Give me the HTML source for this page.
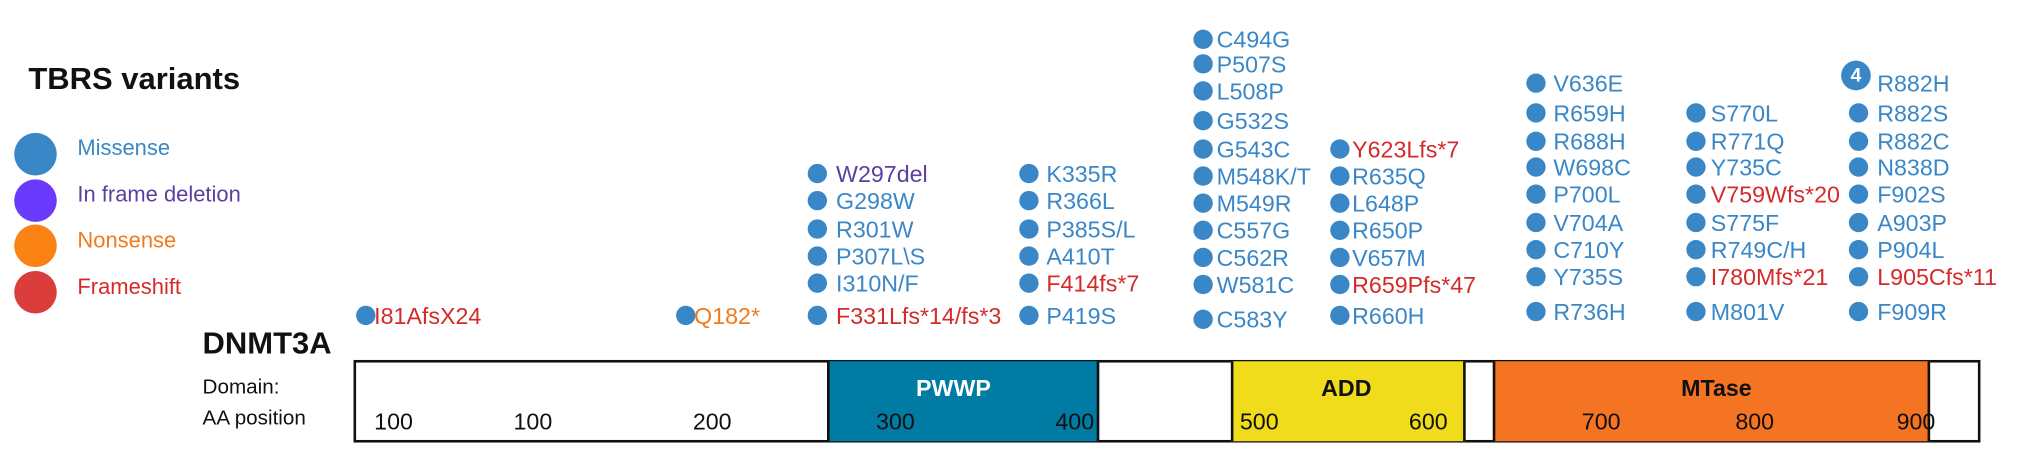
<!DOCTYPE html>
<html><head><meta charset="utf-8"><style>
body{margin:0;width:2023px;height:461px;background:#fff;position:relative;overflow:hidden;font-family:"Liberation Sans",Arial,sans-serif}
#w{position:absolute;left:0;top:0;width:1568px;height:357px;transform:scale(1.2902);transform-origin:0 0}
.t{position:absolute;white-space:nowrap;font-size:18px;line-height:18px;color:#3a87c8}
.d{position:absolute;width:15px;height:15px;border-radius:50%;background:#3a87c8}
.r{color:#d42a2a}.o{color:#f07a1c}.p{color:#5a3fa0}
.lc{position:absolute;width:33px;height:33px;border-radius:50%;left:11px}
.box{position:absolute;top:279px;height:64px}
.n{position:absolute;font-size:18px;color:#111;top:317px}
</style></head><body><div id="w">
<div class="t" style="left:22px;top:50px;font-size:24px;font-weight:bold;color:#111;line-height:24px">TBRS variants</div>
<div class="lc" style="top:103px;background:#3a87c8"></div><div class="t" style="left:60px;top:106px;font-size:17px">Missense</div>
<div class="lc" style="top:139px;background:#6a3bfc"></div><div class="t p" style="left:60px;top:142px;font-size:17px">In frame deletion</div>
<div class="lc" style="top:174px;background:#fb8313"></div><div class="t o" style="left:60px;top:178px;font-size:17px">Nonsense</div>
<div class="lc" style="top:210px;background:#db3d3d"></div><div class="t r" style="left:60px;top:214px;font-size:17px">Frameshift</div>
<div class="t" style="left:157px;top:255px;font-size:24px;font-weight:bold;color:#111;line-height:24px">DNMT3A</div>
<div class="t" style="left:157px;top:292px;font-size:16px;color:#111">Domain:</div>
<div class="t" style="left:157px;top:316px;font-size:16px;color:#111">AA position</div>
<div class="box" style="left:274px;width:1261px;border:2px solid #111;box-sizing:border-box;height:64px"></div>
<div class="box" style="left:641px;width:207px;background:#007ba3;border-left:2px solid #111;border-right:2px solid #111;top:280px;height:62px"></div>
<div class="box" style="left:954px;width:178px;background:#f0dc1a;border-left:2px solid #111;border-right:2px solid #111;top:280px;height:62px"></div>
<div class="box" style="left:1157px;width:335px;background:#f47423;border-left:2px solid #111;border-right:2px solid #111;top:280px;height:62px"></div>
<div class="t" style="left:710px;top:292px;font-weight:bold;color:#fff">PWWP</div>
<div class="t" style="left:1024px;top:292px;font-weight:bold;color:#111">ADD</div>
<div class="t" style="left:1303px;top:292px;font-weight:bold;color:#111">MTase</div>
<div class="n" style="left:290px">100</div><div class="n" style="left:398px">100</div><div class="n" style="left:537px">200</div>
<div class="n" style="left:679px">300</div><div class="n" style="left:818px">400</div><div class="n" style="left:961px">500</div>
<div class="n" style="left:1092px">600</div><div class="n" style="left:1226px">700</div><div class="n" style="left:1345px">800</div><div class="n" style="left:1470px">900</div>
<div id="m"></div>
</div>
<script>
var cols=[
[276,290,[[245,"I81AfsX24","r"]]],
[524,538,[[245,"Q182*","o"]]],
[626,648,[[135,"W297del","p"],[156,"G298W"],[178,"R301W"],[199,"P307L\\S"],[220,"I310N/F"],[245,"F331Lfs*14/fs*3","r"]]],
[790,811,[[135,"K335R"],[156,"R366L"],[178,"P385S/L"],[199,"A410T"],[220,"F414fs*7","r"],[245,"P419S"]]],
[925,943,[[31,"C494G"],[50,"P507S"],[71,"L508P"],[94,"G532S"],[116,"G543C"],[137,"M548K/T"],[158,"M549R"],[179,"C557G"],[200,"C562R"],[221,"W581C"],[248,"C583Y"]]],
[1031,1048,[[116,"Y623Lfs*7","r"],[137,"R635Q"],[158,"L648P"],[179,"R650P"],[200,"V657M"],[221,"R659Pfs*47","r"],[245,"R660H"]]],
[1183,1204,[[65,"V636E"],[88,"R659H"],[110,"R688H"],[130,"W698C"],[151,"P700L"],[173,"V704A"],[194,"C710Y"],[215,"Y735S"],[242,"R736H"]]],
[1307,1326,[[88,"S770L"],[110,"R771Q"],[130,"Y735C"],[151,"V759Wfs*20","r"],[173,"S775F"],[194,"R749C/H"],[215,"I780Mfs*21","r"],[242,"M801V"]]],
[1433,1455,[[65,"R882H"],[88,"R882S"],[110,"R882C"],[130,"N838D"],[151,"F902S"],[173,"A903P"],[194,"P904L"],[215,"L905Cfs*11","r"],[242,"F909R"]]]];
var h="";cols.forEach(function(c){c[2].forEach(function(r,i){
if(!(c[0]==1433&&i==0))h+='<div class="d" style="left:'+c[0]+'px;top:'+(r[0]-8)+'px"></div>';
h+='<div class="t '+(r[2]||"")+'" style="left:'+c[1]+'px;top:'+(r[0]-9)+'px">'+r[1]+'</div>';});});
h+='<div style="position:absolute;left:1427px;top:47px;width:23px;height:23px;border-radius:50%;background:#3a87c8;color:#fff;font-weight:bold;font-size:15px;line-height:23px;text-align:center">4</div>';
document.getElementById("m").innerHTML=h;
</script>
</body></html>
